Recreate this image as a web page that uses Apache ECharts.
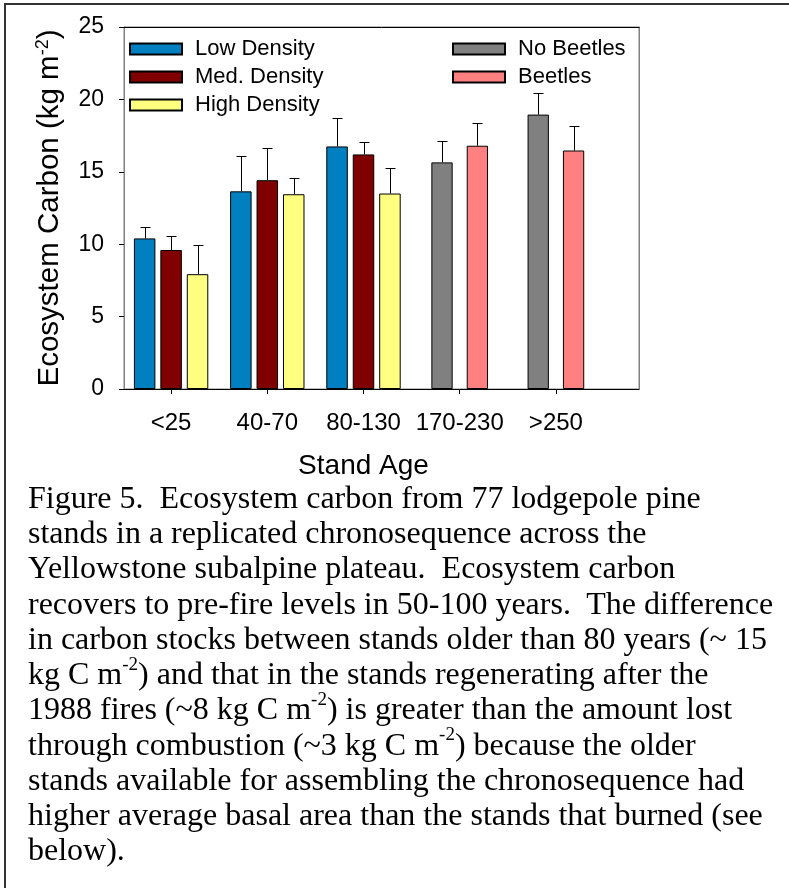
<!DOCTYPE html>
<html>
<head>
<meta charset="utf-8">
<script src="https://cdn.jsdelivr.net/npm/echarts@6/dist/echarts.min.js"></script>
<style>
  html, body { margin: 0; padding: 0; background: #fff; }
  #page { position: relative; width: 789px; height: 888px; overflow: hidden; }
  #chart { position: absolute; left: 0; top: 0; width: 789px; height: 888px; }
  #frame {
    position: absolute; left: 4px; top: 3px; right: -10px; bottom: -10px;
    border-left: 2px solid #333; border-top: 2px solid #333;
  }
  #caption {
    position: absolute; left: 28px; top: 480px;
    font-family: "Liberation Serif", "Times New Roman", serif;
    font-size: 32px; line-height: 35.24px; color: #000; white-space: pre;
  }
  #caption sup { font-size: 19px; line-height: 0; position: relative; top: -3px; }
</style>
</head>
<body>
<div id="page">
  <div id="chart"></div>
  <div id="frame"></div>
  <div id="caption">Figure 5.  Ecosystem carbon from 77 lodgepole pine
stands in a replicated chronosequence across the
Yellowstone subalpine plateau.  Ecosystem carbon
recovers to pre-fire levels in 50-100 years.  The difference
in carbon stocks between stands older than 80 years (~ 15
kg C m<sup>-2</sup>) and that in the stands regenerating after the
1988 fires (~8 kg C m<sup>-2</sup>) is greater than the amount lost
through combustion (~3 kg C m<sup>-2</sup>) because the older
stands available for assembling the chronosequence had
higher average basal area than the stands that burned (see
below).</div>
</div>
<script>
// Stand age classes
const categories = ["<25", "40-70", "80-130", "170-230", ">250"];

// mean ecosystem carbon (kg m-2) and upper error bar size
const lowDensity = [10.4, 13.65, 16.75, "-", "-"];
const lowDensityErr = [0.82, 2.46, 1.99, "-", "-"];
const medDensity = [9.6, 14.42, 16.2, "-", "-"];
const medDensityErr = [1.0, 2.22, 0.86, "-", "-"];
const highDensity = [7.93, 13.45, 13.5, "-", "-"];
const highDensityErr = [2.0, 1.15, 1.79, "-", "-"];
const noBeetles = ["-", "-", "-", 15.65, 18.95];
const noBeetlesErr = ["-", "-", "-", 1.5, 1.51];
const beetles = ["-", "-", "-", 16.8, 16.47];
const beetlesErr = ["-", "-", "-", 1.59, 1.69];

const yTicks = [0, 5, 10, 15, 20, 25];

const FONT = "'Liberation Sans', Arial, sans-serif";
const DENSITY_BW = 21.5, DENSITY_GAP = 0.23;
const BEETLE_BW = 21.3, BEETLE_GAP = 0.66;

function errData(means, errs) {
  return means
    .map((m, i) => (typeof m === "number" ? [i, m, m + errs[i]] : null))
    .filter((d) => d !== null);
}

function errorBar(slot, count, bw, gap) {
  const offset = (slot - (count - 1) / 2) * bw * (1 + gap);
  return function (params, api) {
    const base = api.coord([api.value(0), api.value(1)]);
    const top = api.coord([api.value(0), api.value(2)]);
    const x = Math.round(base[0] + offset) + 0.5;
    const yt = Math.round(top[1]) + 0.5;
    const style = { stroke: "#000", lineWidth: 1 };
    return {
      type: "group",
      children: [
        { type: "line", shape: { x1: x, y1: base[1], x2: x, y2: yt }, style },
        { type: "line", shape: { x1: x - 5, y1: yt, x2: x + 5, y2: yt }, style },
      ],
    };
  };
}

function barSeries(name, data, color, axis, bw, gap) {
  return {
    name,
    type: "bar",
    xAxisIndex: axis,
    yAxisIndex: 2,
    data,
    barWidth: bw,
    barGap: gap * 100 + "%",
    itemStyle: { color, borderColor: "#000", borderWidth: 1 },
    z: 2,
  };
}

function errSeries(means, errs, axis, slot, count, bw, gap) {
  return {
    type: "custom",
    xAxisIndex: axis,
    yAxisIndex: 2,
    data: errData(means, errs),
    encode: { x: 0, y: [1, 2] },
    renderItem: errorBar(slot, count, bw, gap),
    z: 3,
    silent: true,
  };
}

const chart = echarts.init(document.getElementById("chart"));

const legendText = { fontSize: 22, fontFamily: FONT, color: "#000", padding: [0, 0, 0, 8] };

chart.setOption({
  animation: false,
  backgroundColor: "#fff",
  grid: [
    { left: 124, top: 27, width: 515, height: 362, show: true, borderColor: "#808080", borderWidth: 1 },
    { left: 123, top: 27, width: 481, height: 362 },
  ],
  legend: [
    {
      data: ["Low Density", "Med. Density", "High Density"],
      orient: "vertical", left: 124, top: 33,
      icon: "rect", itemWidth: 52, itemHeight: 11, itemGap: 6,
      selectedMode: false, textStyle: legendText,
    },
    {
      data: ["No Beetles", "Beetles"],
      orient: "vertical", left: 447, top: 33,
      icon: "rect", itemWidth: 52, itemHeight: 11, itemGap: 6,
      selectedMode: false, textStyle: legendText,
    },
  ],
  xAxis: [
    {
      gridIndex: 0, type: "value", min: 0, max: 1, position: "bottom",
      axisLine: { show: true, onZero: false, lineStyle: { color: "#000", width: 1 } },
      axisTick: { show: false }, axisLabel: { show: false }, splitLine: { show: false },
    },
    {
      gridIndex: 0, type: "value", min: 0, max: 1, position: "top",
      axisLine: { show: true, onZero: false, lineStyle: { color: "#000", width: 1 } },
      axisTick: { show: false }, axisLabel: { show: false }, splitLine: { show: false },
    },
    {
      gridIndex: 1, type: "category", data: categories, position: "bottom",
      axisLine: { show: false, onZero: false },
      axisTick: { show: true, alignWithLabel: true, length: 5, lineStyle: { color: "#000" } },
      axisLabel: { fontSize: 24, fontFamily: FONT, color: "#000", margin: 22, interval: 0 },
      name: "Stand Age", nameLocation: "middle", nameGap: 63,
      nameTextStyle: { fontSize: 28, fontFamily: FONT, color: "#000" },
    },
    { gridIndex: 1, type: "category", data: categories, show: false },
  ],
  yAxis: [
    {
      gridIndex: 0, type: "value", min: yTicks[0], max: yTicks[yTicks.length - 1], interval: 5,
      axisLine: { show: true, onZero: false, lineStyle: { color: "#808080" } },
      axisTick: { show: true, length: 5, lineStyle: { color: "#000" } },
      axisLabel: { fontSize: 23, fontFamily: FONT, color: "#000", margin: 20 },
      splitLine: { show: false },
      name: "Ecosystem Carbon (kg m{sup|-2})", nameLocation: "middle", nameGap: 58,
      nameTextStyle: {
        fontSize: 29.5, fontFamily: FONT, color: "#000", lineHeight: 32,
        rich: { sup: { fontSize: 18, fontFamily: FONT, color: "#000", verticalAlign: "top", lineHeight: 32 } },
      },
    },
    {
      gridIndex: 0, type: "value", min: 0, max: 25, position: "right",
      axisLine: { show: true, onZero: false, lineStyle: { color: "#808080" } },
      axisTick: { show: false }, axisLabel: { show: false }, splitLine: { show: false },
    },
    { gridIndex: 1, type: "value", min: 0, max: 25, show: false },
  ],
  series: [
    barSeries("Low Density", lowDensity, "#0080c0", 2, DENSITY_BW, DENSITY_GAP),
    barSeries("Med. Density", medDensity, "#800000", 2, DENSITY_BW, DENSITY_GAP),
    barSeries("High Density", highDensity, "#ffff80", 2, DENSITY_BW, DENSITY_GAP),
    barSeries("No Beetles", noBeetles, "#808080", 3, BEETLE_BW, BEETLE_GAP),
    barSeries("Beetles", beetles, "#ff8080", 3, BEETLE_BW, BEETLE_GAP),
    errSeries(lowDensity, lowDensityErr, 2, 0, 3, DENSITY_BW, DENSITY_GAP),
    errSeries(medDensity, medDensityErr, 2, 1, 3, DENSITY_BW, DENSITY_GAP),
    errSeries(highDensity, highDensityErr, 2, 2, 3, DENSITY_BW, DENSITY_GAP),
    errSeries(noBeetles, noBeetlesErr, 3, 0, 2, BEETLE_BW, BEETLE_GAP),
    errSeries(beetles, beetlesErr, 3, 1, 2, BEETLE_BW, BEETLE_GAP),
  ],
});
</script>
</body>
</html>
